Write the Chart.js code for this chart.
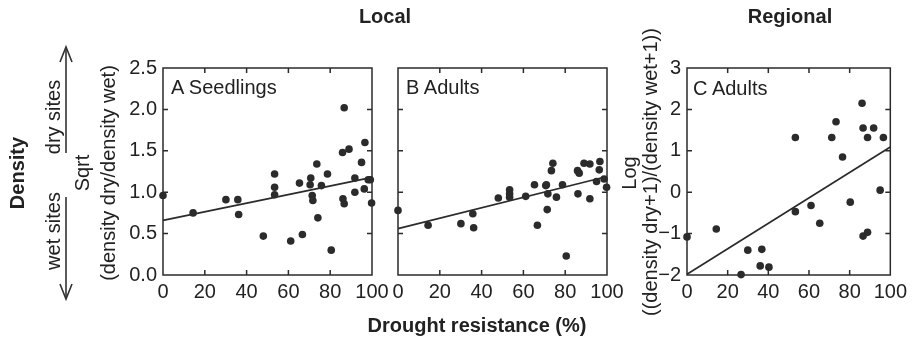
<!DOCTYPE html>
<html>
<head>
<meta charset="utf-8">
<script src="https://cdn.jsdelivr.net/npm/chart.js@4/dist/chart.umd.min.js"></script>
<style>
  body { margin: 0; background: #fff; }
  #wrap { position: relative; width: 912px; height: 337px; overflow: hidden; font-family: "Liberation Sans", Arial, Helvetica, sans-serif; color: #222; }
  canvas { position: absolute; top: 40px; }
  .t { position: absolute; white-space: nowrap; font-size: 20px; line-height: 1; }
  .b { font-weight: bold; }
  .c { transform: translate(-50%, -50%); }
  .r { transform: translate(-50%, -50%) rotate(-90deg); }
  svg { position: absolute; left: 0; top: 0; }
</style>
</head>
<body>
<div id="wrap">
  <canvas id="chartA" width="280" height="268" style="left:120px"></canvas>
  <canvas id="chartB" width="280" height="268" style="left:355px"></canvas>
  <canvas id="chartC" width="268" height="268" style="left:644px"></canvas>

  <svg width="912" height="337">
    <g stroke="#333" stroke-width="1.6" fill="none">
      <line x1="66" y1="153" x2="66" y2="48"/>
      <polyline points="60,62 66,47 72,62"/>
      <line x1="66" y1="197" x2="66" y2="298"/>
      <polyline points="60,284 66,299 72,284"/>
    </g>
  </svg>

  <div class="t b c" style="left:385px; top:16px">Local</div>
  <div class="t b c" style="left:790px; top:16px">Regional</div>
  <div class="t b c" style="left:477px; top:325px">Drought resistance (%)</div>
  <div class="t b r" style="left:17px; top:173px">Density</div>
  <div class="t r" style="left:53px; top:117px">dry sites</div>
  <div class="t r" style="left:53px; top:231px">wet sites</div>
  <div class="t r" style="left:82px; top:173px">Sqrt</div>
  <div class="t r" style="left:108px; top:173px">(density dry/density wet)</div>
  <div class="t r" style="left:629px; top:173px">Log</div>
  <div class="t r" style="left:650px; top:172px">((density dry+1)/(density wet+1))</div>
  <div class="t" style="left:171px; top:77px">A Seedlings</div>
  <div class="t" style="left:406px; top:77px">B Adults</div>
  <div class="t" style="left:693px; top:78px">C Adults</div>
</div>

<script>
// drought resistance (%) and density ratios
const seedlingsX = [0, 14.4, 30.1, 35.8, 36.2, 48, 53.4, 53.4, 53.4, 61.1, 65.3, 66.7, 70.7, 70.4, 71.4, 71.7, 73.6, 74.1, 75.8, 78.7, 80.5, 85.9, 86.7, 86.1, 86.7, 89, 91.8, 91.8, 95, 96.6, 96.3, 98.2, 99.2, 99.8];
const seedlingsY = [0.96, 0.75, 0.91, 0.91, 0.73, 0.47, 1.22, 1.06, 0.97, 0.41, 1.11, 0.49, 1.17, 1.09, 0.96, 0.90, 1.34, 0.69, 1.08, 1.22, 0.30, 1.48, 2.02, 0.92, 0.86, 1.52, 1.17, 1.0, 1.36, 1.60, 1.04, 1.15, 1.15, 0.87];

const localAdultsX = [0, 14.4, 30.1, 35.8, 36.2, 48, 53.4, 53.4, 53.4, 61.1, 65.3, 66.7, 70.7, 71, 71.7, 71.4, 74.1, 73.4, 75.8, 78.7, 80.5, 85.9, 86.7, 86.1, 89, 91.8, 91.8, 95, 96.6, 96.3, 98.6, 99.8];
const localAdultsY = [0.78, 0.60, 0.62, 0.74, 0.57, 0.93, 1.03, 0.98, 0.94, 0.95, 1.09, 0.60, 1.08, 1.09, 0.98, 0.79, 1.35, 1.26, 0.94, 1.09, 0.23, 1.26, 1.23, 0.98, 1.35, 1.34, 0.92, 1.13, 1.37, 1.27, 1.16, 1.06];

const regionalAdultsX = [0, 14.4, 26.6, 29.9, 36, 36.8, 40.3, 53.3, 53.3, 61, 65.3, 71.2, 73.3, 76.5, 80.3, 86.1, 86.6, 86.6, 88.8, 88.8, 91.8, 95, 96.6];
const regionalAdultsY = [-1.08, -0.89, -1.99, -1.40, -1.78, -1.38, -1.81, 1.32, -0.47, -0.32, -0.75, 1.32, 1.70, 0.85, -0.24, 2.15, 1.55, -1.06, -0.97, 1.32, 1.55, 0.05, 1.32];

// fitted lines, value at 0 % and at 100 %
const fitSeedlings = [0.66, 1.18];
const fitLocalAdults = [0.56, 1.19];
const fitRegionalAdults = [-1.98, 1.09];

const xTickLabels = ['0', '20', '40', '60', '80', '100'];
const localTickLabels = ['0.0', '0.5', '1.0', '1.5', '2.0', '2.5'];
const regionalTickLabels = ['\u22122', '\u22121', '0', '1', '2', '3'];

const INK = '#2b2b2b';
const FONT = { family: '"Liberation Sans", Arial, Helvetica, sans-serif', size: 20 };

const toPoints = (xs, ys) => xs.map((x, i) => ({ x: x, y: ys[i] }));

// box round the plot with inward ticks on all four sides
const framePlugin = {
  id: 'frame',
  beforeDatasetsDraw(chart) {
    const { ctx, chartArea: a, scales } = chart;
    ctx.save();
    ctx.strokeStyle = INK;
    ctx.lineWidth = 1.5;
    ctx.strokeRect(a.left, a.top, a.right - a.left, a.bottom - a.top);
    ctx.beginPath();
    scales.x.ticks.forEach((t) => {
      const px = scales.x.getPixelForValue(t.value);
      if (px <= a.left + 1 || px >= a.right - 1) return;
      ctx.moveTo(px, a.bottom); ctx.lineTo(px, a.bottom - 5);
      ctx.moveTo(px, a.top); ctx.lineTo(px, a.top + 5);
    });
    scales.y.ticks.forEach((t) => {
      const py = scales.y.getPixelForValue(t.value);
      if (py <= a.top + 1 || py >= a.bottom - 1) return;
      ctx.moveTo(a.left, py); ctx.lineTo(a.left + 5, py);
      ctx.moveTo(a.right, py); ctx.lineTo(a.right - 5, py);
    });
    ctx.stroke();
    ctx.restore();
  }
};

function makePanel(id, xs, ys, fit, yMin, yMax, yStep, yLabels, padRight) {
  new Chart(document.getElementById(id), {
    type: 'scatter',
    data: {
      datasets: [
        {
          data: toPoints(xs, ys),
          pointRadius: 3.8,
          pointBackgroundColor: INK,
          pointBorderWidth: 0,
          clip: false
        },
        {
          type: 'line',
          data: [{ x: 0, y: fit[0] }, { x: 100, y: fit[1] }],
          borderColor: INK,
          borderWidth: 1.7,
          pointRadius: 0,
          clip: false
        }
      ]
    },
    options: {
      responsive: false,
      animation: false,
      devicePixelRatio: 1,
      layout: { padding: { top: 28, right: padRight, bottom: 0, left: 0 } },
      plugins: { legend: { display: false }, tooltip: { enabled: false } },
      scales: {
        x: {
          type: 'linear', min: 0, max: 100,
          grid: { display: false, drawTicks: false },
          border: { display: false },
          ticks: {
            stepSize: 20, padding: 5, color: '#222', font: FONT, maxRotation: 0,
            callback: (v) => xTickLabels[v / 20]
          },
          afterFit: (s) => { s.height = 33; }
        },
        y: {
          type: 'linear', min: yMin, max: yMax,
          grid: { display: false, drawTicks: false },
          border: { display: false },
          ticks: {
            stepSize: yStep, padding: 6, color: '#222', font: FONT,
            display: yLabels !== null,
            callback: (v) => yLabels ? yLabels[Math.round((v - yMin) / yStep)] : ''
          },
          afterFit: (s) => { s.width = 43; }
        }
      }
    },
    plugins: [framePlugin]
  });
}

makePanel('chartA', seedlingsX, seedlingsY, fitSeedlings, 0, 2.5, 0.5, localTickLabels, 28);
makePanel('chartB', localAdultsX, localAdultsY, fitLocalAdults, 0, 2.5, 0.5, null, 28);
makePanel('chartC', regionalAdultsX, regionalAdultsY, fitRegionalAdults, -2, 3, 1, regionalTickLabels, 17);
</script>
</body>
</html>
